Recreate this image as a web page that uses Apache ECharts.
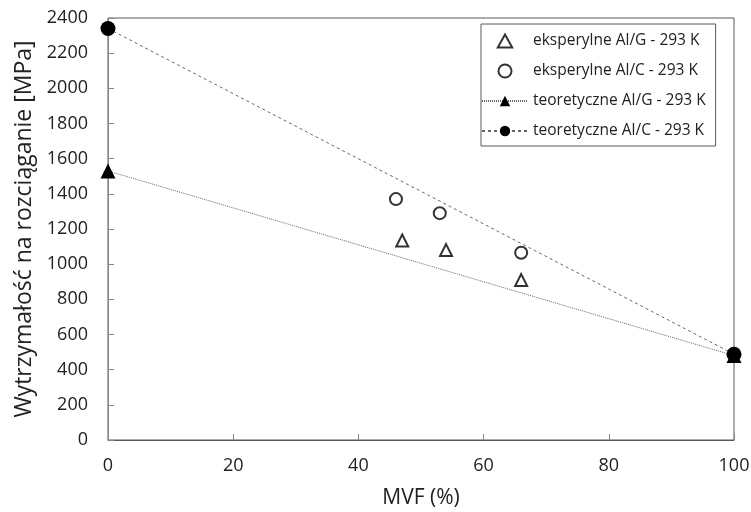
<!DOCTYPE html>
<html>
<head>
<meta charset="utf-8">
<script src="https://cdn.jsdelivr.net/npm/echarts@6/dist/echarts.min.js"></script>
<style>
  html, body { margin: 0; padding: 0; background: #fff; }
  #chart { width: 751px; height: 512px; }
</style>
</head>
<body>
<div id="chart"></div>
<script>
// dane
var expAlG = [[47, 1135], [54, 1080], [66, 910]];
var expAlC = [[46, 1370], [53, 1290], [66, 1065]];
var teoAlG = [[0, 1530], [100, 480]];
var teoAlC = [[0, 2340], [100, 488]];

var names = [
  'eksperylne Al/G - 293 K',
  'eksperylne Al/C - 293 K',
  'teoretyczne Al/G - 293 K',
  'teoretyczne Al/C - 293 K'
];

var font = '"Open Sans", sans-serif';
var triPath = 'path://M5,0 L10,9 L0,9 Z';
var chart = echarts.init(document.getElementById('chart'));

var option = {
  animation: false,
  textStyle: { fontFamily: font },
  grid: {
    left: 108, right: 17, top: 18, bottom: 72,
    outerBoundsMode: 'none',
    show: true, borderColor: '#595959', borderWidth: 1
  },
  legend: {
    orient: 'vertical',
    left: 481, top: 24,
    backgroundColor: '#fff',
    borderColor: '#595959', borderWidth: 1,
    padding: [9, 10, 7, 0],
    itemGap: 14,
    itemWidth: 46, itemHeight: 13,
    textStyle: { fontSize: 15.5, color: '#222', fontFamily: font },
    data: [
      { name: names[0], icon: triPath },
      { name: names[1] },
      { name: names[2] },
      { name: names[3] }
    ]
  },
  xAxis: {
    type: 'value', min: 0, max: 100, interval: 20,
    name: 'MVF (%)', nameLocation: 'middle', nameGap: 48,
    nameTextStyle: { fontSize: 21, color: '#222', fontFamily: font },
    axisLine: { lineStyle: { color: '#595959', width: 1 } },
    axisTick: { inside: true, length: 6, lineStyle: { color: '#868686' } },
    axisLabel: { fontSize: 18, color: '#222', margin: 17 },
    splitLine: { show: false }
  },
  yAxis: {
    type: 'value', min: 0, max: 2400, interval: 200,
    name: 'Wytrzymałość na rozciąganie [MPa]', nameLocation: 'middle', nameGap: 72,
    nameTextStyle: { fontSize: 23, color: '#222', fontFamily: font },
    axisLine: { show: true, lineStyle: { color: '#868686', width: 1 } },
    axisTick: { show: true, inside: true, length: 6, lineStyle: { color: '#868686' } },
    axisLabel: { fontSize: 18, color: '#222', margin: 20, formatter: function (v) { return String(v); } },
    splitLine: { show: false }
  },
  series: [
    {
      name: names[2], type: 'line', data: teoAlG,
      symbol: 'triangle', symbolSize: 15,
      itemStyle: { color: '#000' },
      lineStyle: { color: '#666', width: 1, type: [1, 1] },
      z: 3
    },
    {
      name: names[3], type: 'line', data: teoAlC,
      symbol: 'circle', symbolSize: 15,
      itemStyle: { color: '#000' },
      lineStyle: { color: '#666', width: 1, type: [3, 3] },
      z: 4
    },
    {
      name: names[0], type: 'scatter', data: expAlG,
      symbol: 'triangle', symbolSize: 12,
      itemStyle: { color: '#fff', borderColor: '#000', borderWidth: 2 },
      z: 5
    },
    {
      name: names[1], type: 'scatter', data: expAlC,
      symbol: 'circle', symbolSize: 12,
      itemStyle: { color: '#fff', borderColor: '#000', borderWidth: 2 },
      z: 5
    }
  ]
};
chart.setOption(option);
</script>
</body>
</html>
